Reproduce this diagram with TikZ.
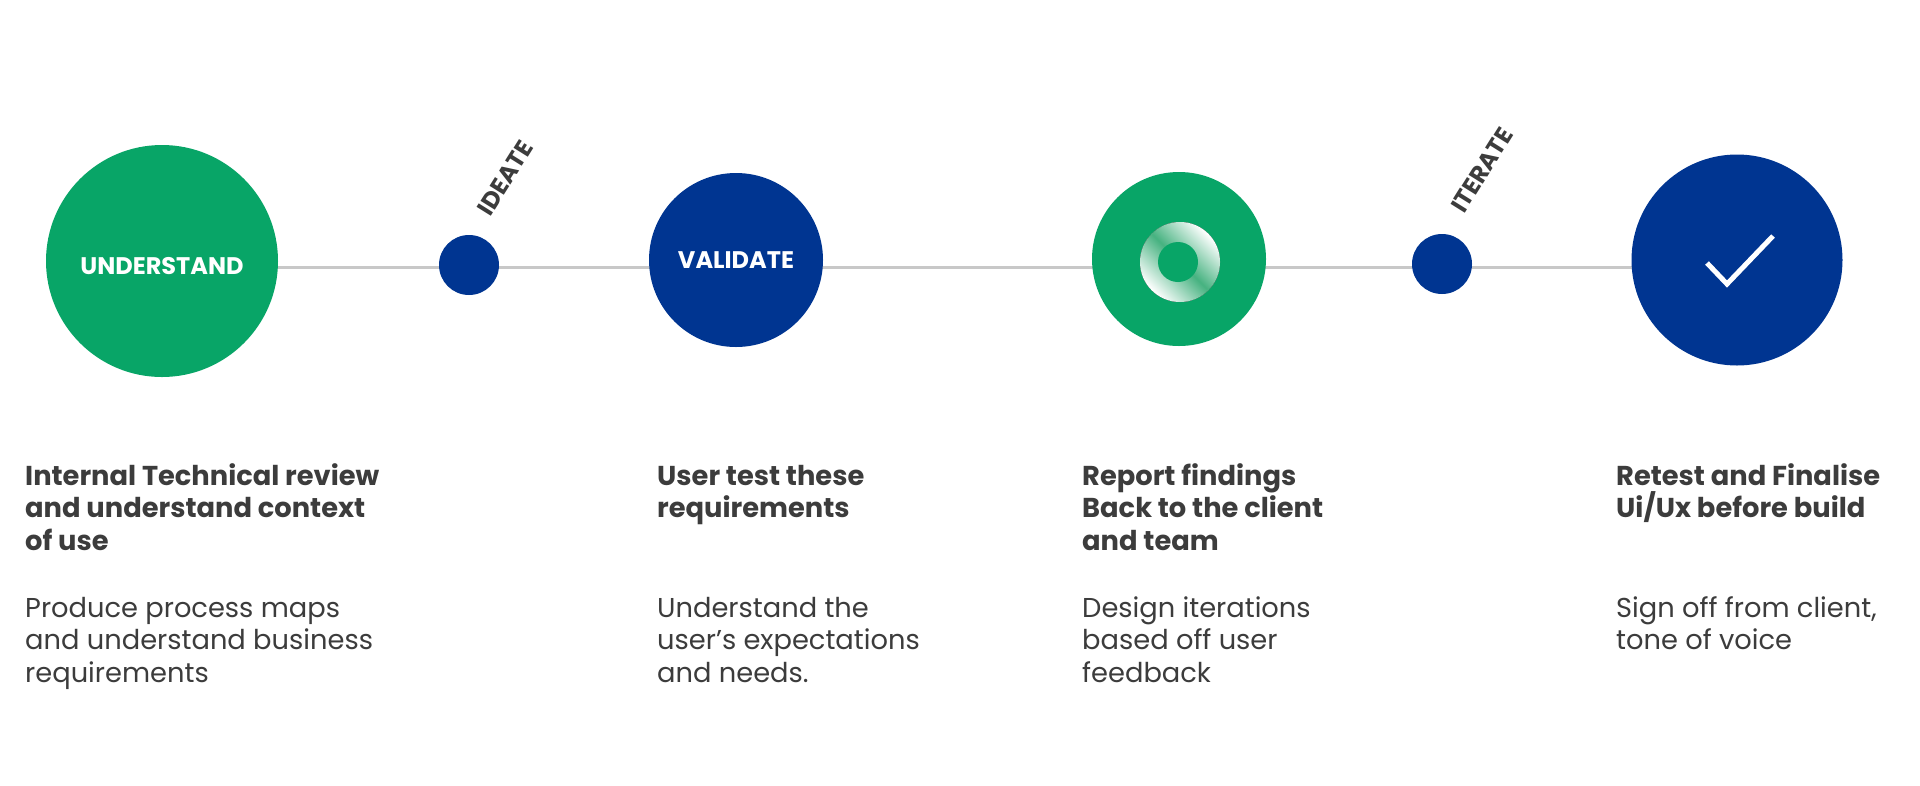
\documentclass[tikz,border=0pt]{standalone}
\usepackage{fontspec}
\setmainfont{Poppins}
\usetikzlibrary{backgrounds}
\definecolor{pgreen}{RGB}{8,165,103}
\definecolor{pblue}{RGB}{0,53,145}
\definecolor{ptext}{RGB}{60,60,60}
\definecolor{pline}{RGB}{200,200,200}
\definecolor{swg}{RGB}{70,178,128}
\pgfdeclarehorizontalshading{band}{100bp}{color(0bp)=(white); color(25bp)=(white); color(50bp)=(swg); color(75bp)=(white); color(100bp)=(white)}
\tikzset{
  disc/.style={circle, inner sep=0pt, minimum size=#1, draw=none},
  gdisc/.style={disc=#1, fill=pgreen},
  bdisc/.style={disc=#1, fill=pblue},
  inlabel/.style={text=white, font=\fontsize{24}{28}\selectfont\bfseries},
  tilt/.style={text=ptext, rotate=58, inner sep=0pt, font=\fontsize{24}{28}\selectfont\bfseries},
  head/.style={text=ptext, anchor=base west, inner sep=0pt, font=\fontsize{27.3}{32}\selectfont\bfseries},
  body/.style={text=ptext, anchor=base west, inner sep=0pt, font=\fontsize{27.3}{32}\selectfont},
  conn/.style={draw=pline, line width=3pt},
}
\begin{document}
\begin{tikzpicture}[x=1pt,y=-1pt]
\useasboundingbox (0,0) rectangle (1920,785);
% circles
\node[gdisc=232pt] (c1) at (162,261) {};
\node[bdisc=60pt] (d1) at (469,265) {};
\node[bdisc=174pt] (c2) at (736,260) {};
\node[gdisc=174pt] (c3) at (1179,259) {};
\node[bdisc=60pt] (d2) at (1442,264) {};
\node[bdisc=211pt] (c4) at (1737,260) {};
\coordinate (ly) at (0,267);
\begin{pgfonlayer}{background}
\fill[white] (0,0) rectangle (1920,785);
\draw[conn] (c1 |- ly) -- (c4 |- ly);
\end{pgfonlayer}
% circle labels
\node[inlabel] (l1) at (162,266) {UNDERSTAND};
\node[inlabel] (l2) at (736,260) {VALIDATE};
% swirl logo
\fill[white] ([shift={(1,3)}]c3.center) circle (40);
\fill[shading=band, shading angle=45] ([shift={(1,3)}]c3.center) circle (40);
\fill[pgreen] ([shift={(-1,3)}]c3.center) circle (20);
% check mark
\draw[white, line width=5pt, line join=miter] ([shift={(-30,3)}]c4.center) -- ([shift={(-10,24)}]c4.center) -- ([shift={(36,-24)}]c4.center);
% tilted labels
\node[tilt] (t1) at (505,178) {IDEATE};
\node[tilt] (t2) at (1482,170) {ITERATE};
% headings
\foreach \t [count=\i] in {Internal Technical review, and understand context, of use}
  \node[head] (h1-\i) at (25,485+32.5*\i-32.5) {\t};
\foreach \t [count=\i] in {User test these, requirements}
  \node[head] (h2-\i) at (657,485+32.5*\i-32.5) {\t};
\foreach \t [count=\i] in {Report findings, Back to the client, and team}
  \node[head] (h3-\i) at (1082,485+32.5*\i-32.5) {\t};
\foreach \t [count=\i] in {Retest and Finalise, Ui/Ux before build}
  \node[head] (h4-\i) at (1616,485+32.5*\i-32.5) {\t};
% bodies
\foreach \t [count=\i] in {Produce process maps, and understand business, requirements}
  \node[body] (b1-\i) at (25,617+32.5*\i-32.5) {\t};
\foreach \t [count=\i] in {Understand the, user’s expectations, and needs.}
  \node[body] (b2-\i) at (657,617+32.5*\i-32.5) {\t};
\foreach \t [count=\i] in {Design iterations, based off user, feedback}
  \node[body] (b3-\i) at (1082,617+32.5*\i-32.5) {\t};
\foreach \t [count=\i] in {Sign off from client{,}, tone of voice}
  \node[body] (b4-\i) at (1616,617+32.5*\i-32.5) {\t};
\end{tikzpicture}
\end{document}
